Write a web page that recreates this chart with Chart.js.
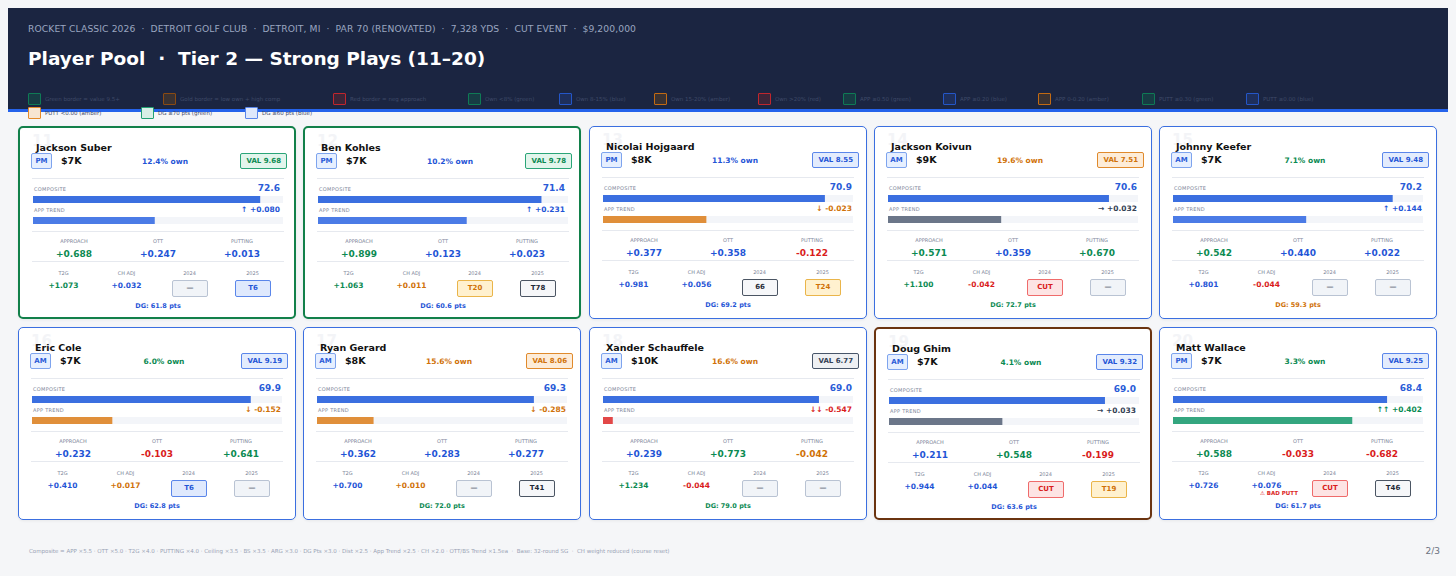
<!DOCTYPE html>
<html lang="en">
<head>
<meta charset="UTF-8">
<title>Player Pool - Tier 2</title>
<script src="https://cdn.jsdelivr.net/npm/chart.js@4.4.1/dist/chart.umd.min.js"></script>
<style>
  body { margin:0; width:1456px; height:576px; background:#f5f6f8; font-family:"DejaVu Sans", sans-serif; position:relative; overflow:hidden; }
  .hdr { position:absolute; left:8px; top:8px; width:1440px; height:101px; background:#1b2541; border-bottom:3px solid #2563eb; }
  .sub { position:absolute; left:20px; top:15px; color:#9aa6c0; font-size:9.2px; letter-spacing:0.1px; }
  .ttl { position:absolute; left:20px; top:40px; color:#fff; font-size:18.5px; font-weight:bold; }
  .lg { position:absolute; font-size:5.5px; color:#3f4a68; display:flex; align-items:center; white-space:nowrap; }
  .lg i { display:inline-block; width:11px; height:10px; border:1px solid; margin-right:4px; border-radius:1px; }
  .card { position:absolute; width:278px; height:193px; background:#fff; border:1.5px solid #3b6fe0; border-radius:5px; box-sizing:border-box; box-shadow:0 1px 3px rgba(0,0,0,0.06); }
  .rank { position:absolute; left:12px; top:4px; font-size:15px; font-weight:bold; color:#f3f4f7; }
  .name { position:absolute; left:16px; top:14px; font-size:9.5px; font-weight:bold; color:#111; }
  .pos { position:absolute; left:11px; top:25px; width:19px; height:14px; border:1.2px solid #7ea4ee; background:#e6efff; color:#2a5bd7; font-size:7px; font-weight:bold; text-align:center; line-height:14px; border-radius:2px; }
  .sal { position:absolute; left:41px; top:27px; font-size:9.5px; font-weight:bold; color:#111; }
  .own { position:absolute; left:105px; top:29px; width:80px; text-align:center; font-size:7.5px; font-weight:bold; }
  .val { position:absolute; right:7px; top:25px; padding:0 5px; height:14px; line-height:14px; border:1.2px solid; font-size:7px; font-weight:bold; border-radius:2px; }
  .hr { position:absolute; left:12px; width:252px; height:1px; background:#e6e9ef; }
  .lbl { position:absolute; font-size:5px; color:#7b8498; letter-spacing:0.3px; }
  .big { position:absolute; right:14px; font-size:9px; font-weight:bold; color:#2a5bd7; }
  .tr { position:absolute; right:14px; font-size:7.5px; font-weight:bold; }
  canvas { position:absolute; left:13px; }
  .col { position:absolute; text-align:center; }
  .col .l { font-size:5px; color:#7b8498; }
  .col .v { font-size:9px; font-weight:bold; margin-top:5px; }
  .col .s { font-size:7.5px; font-weight:bold; margin-top:5px; }
  .box { position:absolute; width:34px; height:15px; border:1.2px solid; border-radius:2px; font-size:7px; font-weight:bold; text-align:center; line-height:15px; }
  .dg { position:absolute; left:0; width:276px; text-align:center; font-size:6.5px; font-weight:bold; }
  .warn { position:absolute; left:100px; top:162px; font-size:5.5px; font-weight:bold; color:#dc2626; }
  .foot { position:absolute; left:29px; top:548px; font-size:5.5px; color:#9aa3b5; }
  .pg { position:absolute; right:16px; top:546px; font-size:9px; color:#6b7280; }
</style>
</head>
<body>
<div class="hdr">
  <div class="sub">ROCKET CLASSIC 2026 &nbsp;·&nbsp; DETROIT GOLF CLUB &nbsp;·&nbsp; DETROIT, MI &nbsp;·&nbsp; PAR 70 (RENOVATED) &nbsp;·&nbsp; 7,328 YDS &nbsp;·&nbsp; CUT EVENT &nbsp;·&nbsp; $9,200,000</div>
  <div class="ttl">Player Pool &nbsp;·&nbsp; Tier 2 — Strong Plays (11–20)</div>
</div>
<div id="legend"></div>
<div id="cards"></div>
<div class="foot">Composite = APP ×5.5 · OTT ×5.0 · T2G ×4.0 · PUTTING ×4.0 · Ceiling ×3.5 · BS ×3.5 · ARG ×3.0 · DG Pts ×3.0 · Dist ×2.5 · App Trend ×2.5 · CH ×2.0 · OTT/BS Trend ×1.5ea &nbsp;·&nbsp; Base: 32-round SG &nbsp;·&nbsp; CH weight reduced (course reset)</div>
<div class="pg">2/3</div>
<script>
// ---- data ----
const ranks = [11, 12, 13, 14, 15, 16, 17, 18, 19, 20];
const players = ['Jackson Suber', 'Ben Kohles', 'Nicolai Hojgaard', 'Jackson Koivun', 'Johnny Keefer',
                 'Eric Cole', 'Ryan Gerard', 'Xander Schauffele', 'Doug Ghim', 'Matt Wallace'];
const waves = ['PM', 'PM', 'PM', 'AM', 'AM', 'AM', 'AM', 'AM', 'AM', 'PM'];
const salaries = [7, 7, 8, 9, 7, 7, 8, 10, 7, 7];
const ownership = [12.4, 10.2, 11.3, 19.6, 7.1, 6.0, 15.6, 16.6, 4.1, 3.3];
const values = [9.68, 9.78, 8.55, 7.51, 9.48, 9.19, 8.06, 6.77, 9.32, 9.25];
const composite = [72.6, 71.4, 70.9, 70.6, 70.2, 69.9, 69.3, 69.0, 69.0, 68.4];
const appTrend = [0.080, 0.231, -0.023, 0.032, 0.144, -0.152, -0.285, -0.547, 0.033, 0.402];
const approach = [0.688, 0.899, 0.377, 0.571, 0.542, 0.232, 0.362, 0.239, 0.211, 0.588];
const ott = [0.247, 0.123, 0.358, 0.359, 0.440, -0.103, 0.283, 0.773, 0.548, -0.033];
const putting = [0.013, 0.023, -0.122, 0.670, 0.022, 0.641, 0.277, -0.042, -0.199, -0.682];
const t2g = [1.073, 1.063, 0.981, 1.100, 0.801, 0.410, 0.700, 1.234, 0.944, 0.726];
const chAdj = [0.032, 0.011, 0.056, -0.042, -0.044, 0.017, 0.010, -0.044, 0.044, 0.076];
const fin2024 = ['—', 'T20', '66', 'CUT', '—', 'T6', '—', '—', 'CUT', 'CUT'];
const fin2025 = ['T6', 'T78', 'T24', '—', '—', '—', 'T41', '—', 'T19', 'T46'];
const dgPts = [61.8, 60.6, 69.2, 72.7, 59.3, 62.8, 72.0, 79.0, 63.6, 61.7];
const cardBorder = ['value', 'value', '', '', '', '', '', '', 'gold', ''];
const legendItems = [
  ['Green border = value 9.5+', '#0f7a55', '#173c44'], ['Gold border = low own + high comp', '#8a4a12', '#3a3232'],
  ['Red border = neg approach', '#c0262d', '#3d2538'], ['Own <8% (green)', '#0f7a55', '#173c44'],
  ['Own 8-15% (blue)', '#2456c8', '#1e2f5c'], ['Own 15-20% (amber)', '#c36a12', '#3a3232'],
  ['Own >20% (red)', '#c0262d', '#3d2538'], ['APP ≥0.50 (green)', '#0f7a55', '#173c44'],
  ['APP ≥0.20 (blue)', '#2456c8', '#1e2f5c'], ['APP 0-0.20 (amber)', '#c36a12', '#3a3232'],
  ['PUTT ≥0.30 (green)', '#0f7a55', '#173c44'], ['PUTT ≥0.00 (blue)', '#2456c8', '#1e2f5c'],
  ['PUTT <0.00 (amber)', '#e58a2a', '#f7e5d2'], ['DG ≥70 pts (green)', '#22a074', '#d8efe6'],
  ['DG ≥60 pts (blue)', '#5a86ea', '#dfe8fb']
];
const legendLeft = [28, 163, 333, 468, 559, 654, 758, 843, 943, 1038, 1142, 1246, 28, 141, 245];

const GREEN = '#0b8a52', BLUE = '#1f55d6', AMBER = '#d07208', RED = '#d91c1c', DARK = '#334155';

// ---- legend ----
const lg = document.getElementById('legend');
legendItems.forEach((it, i) => {
  const d = document.createElement('div');
  d.className = 'lg';
  d.style.left = legendLeft[i] + 'px';
  d.style.top = (i < 12 ? 93 : 107) + 'px';
  d.innerHTML = `<i style="border-color:${it[1]};background:${it[2]}"></i>${it[0]}`;
  lg.appendChild(d);
});

const sgn = v => (v >= 0 ? '+' : '') + v.toFixed(3);
const ownColor = o => o < 8 ? GREEN : o < 15 ? BLUE : AMBER;
function valStyle(v, o) {
  if (v < 7) return ['#475569', '#eef0f3', '#334155'];
  if (o >= 15) return ['#e08a2c', '#fdecd8', AMBER];
  if (v >= 9.5) return ['#2aa578', '#e2f5ec', GREEN];
  return ['#5a86ea', '#e3ecfd', BLUE];
}
function boxStyle(f) {
  if (f === '—') return ['#b9c3d3', '#f1f4f8', '#6b7280'];
  if (f === 'CUT') return ['#ef6b6b', '#fde4e4', RED];
  const n = parseInt(f.replace('T', ''));
  if (n <= 10) return ['#5a86ea', '#dfe9fd', BLUE];
  if (n <= 30) return ['#eab54a', '#fff1cf', AMBER];
  return ['#4b5563', '#f6f7f9', '#1f2937'];
}
function trendInfo(v) {
  if (v >= 0.3) return ['↑↑', GREEN, '#34a67f'];
  if (v >= 0.05) return ['↑', BLUE, '#4b7be6'];
  if (v >= 0) return ['→', DARK, '#6b7689'];
  if (v >= -0.4) return ['↓', AMBER, '#e08f3a'];
  return ['↓↓', RED, '#e24848'];
}
const statColor = (v, hi) => v >= hi ? GREEN : v >= 0 ? BLUE : RED;
const puttColor = v => v >= 0.3 ? GREEN : v >= 0 ? BLUE : v > -0.1 ? AMBER : RED;
const chColor = v => v < 0 ? RED : v < 0.02 ? AMBER : BLUE;
const dgColor = v => v >= 70 ? GREEN : v >= 60 ? BLUE : AMBER;

function barChart(canvas, value, min, max, color) {
  new Chart(canvas, {
    type: 'bar',
    data: { labels: [''], datasets: [
      { data: [[min, value]], backgroundColor: color, order: 1, grouped: false, barPercentage: 1, categoryPercentage: 1 },
      { data: [[min, max]], backgroundColor: '#f3f5f9', order: 2, grouped: false, barPercentage: 1, categoryPercentage: 1 }
    ]},
    options: {
      indexAxis: 'y', responsive: false, animation: false,
      layout: { padding: 0 },
      plugins: { legend: { display: false }, tooltip: { enabled: false } },
      scales: { x: { display: false, min: min, max: max }, y: { display: false } }
    }
  });
}

// ---- cards ----
const colX = [18, 303, 589, 874, 1159];
const rowY = [126, 327];
const wrap = document.getElementById('cards');
players.forEach((p, i) => {
  const c = document.createElement('div');
  c.className = 'card';
  c.style.left = colX[i % 5] + 'px';
  c.style.top = rowY[Math.floor(i / 5)] + 'px';
  if (cardBorder[i] === 'value') { c.style.borderColor = '#12804a'; c.style.borderWidth = '2px'; }
  if (cardBorder[i] === 'gold') { c.style.borderColor = '#6b3410'; c.style.borderWidth = '2px'; }
  const vs = valStyle(values[i], ownership[i]);
  const ti = trendInfo(appTrend[i]);
  const b24 = boxStyle(fin2024[i]), b25 = boxStyle(fin2025[i]);
  c.innerHTML = `
    <div class="rank">${ranks[i]}</div>
    <div class="name">${p}</div>
    <div class="pos">${waves[i]}</div>
    <div class="sal">$${salaries[i]}K</div>
    <div class="own" style="color:${ownColor(ownership[i])}">${ownership[i].toFixed(1)}% own</div>
    <div class="val" style="border-color:${vs[0]};background:${vs[1]};color:${vs[2]}">VAL ${values[i].toFixed(2)}</div>
    <div class="hr" style="top:50px"></div>
    <div class="lbl" style="left:14px;top:58px">COMPOSITE</div>
    <div class="big" style="top:55px">${composite[i].toFixed(1)}</div>
    <canvas id="c${i}" width="250" height="7" style="top:68px"></canvas>
    <div class="lbl" style="left:14px;top:79px">APP TREND</div>
    <div class="tr" style="top:77px;color:${ti[1]}">${ti[0]} ${sgn(appTrend[i])}</div>
    <canvas id="t${i}" width="250" height="7" style="top:89px"></canvas>
    <div class="hr" style="top:103px"></div>
    <div class="col" style="left:12px;width:84px;top:110px"><div class="l">APPROACH</div><div class="v" style="color:${statColor(approach[i], 0.5)}">${sgn(approach[i])}</div></div>
    <div class="col" style="left:96px;width:84px;top:110px"><div class="l">OTT</div><div class="v" style="color:${statColor(ott[i], 0.5)}">${sgn(ott[i])}</div></div>
    <div class="col" style="left:180px;width:84px;top:110px"><div class="l">PUTTING</div><div class="v" style="color:${puttColor(putting[i])}">${sgn(putting[i])}</div></div>
    <div class="hr" style="top:133px"></div>
    <div class="col" style="left:12px;width:63px;top:142px"><div class="l">T2G</div><div class="s" style="color:${statColor(t2g[i], 1.0)}">${sgn(t2g[i])}</div></div>
    <div class="col" style="left:75px;width:63px;top:142px"><div class="l">CH ADJ</div><div class="s" style="color:${chColor(chAdj[i])}">${sgn(chAdj[i])}</div></div>
    <div class="col" style="left:138px;width:63px;top:142px"><div class="l">2024</div></div>
    <div class="col" style="left:201px;width:63px;top:142px"><div class="l">2025</div></div>
    <div class="box" style="left:152px;top:152px;border-color:${b24[0]};background:${b24[1]};color:${b24[2]}">${fin2024[i]}</div>
    <div class="box" style="left:215px;top:152px;border-color:${b25[0]};background:${b25[1]};color:${b25[2]}">${fin2025[i]}</div>
    ${putting[i] < -0.5 ? '<div class="warn">⚠ BAD PUTT</div>' : ''}
    <div class="dg" style="top:174px;color:${dgColor(dgPts[i])}">DG: ${dgPts[i].toFixed(1)} pts</div>`;
  wrap.appendChild(c);
  barChart(document.getElementById('c' + i), composite[i], 0, 80, '#3b6fe0');
  barChart(document.getElementById('t' + i), appTrend[i], -0.6, 0.8, ti[2]);
});
</script>
</body>
</html>
